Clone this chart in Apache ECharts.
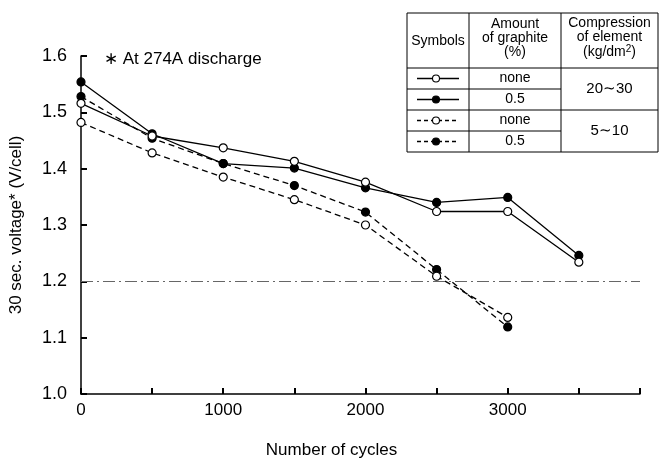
<!DOCTYPE html>
<html>
<head>
<meta charset="utf-8">
<script src="https://cdn.jsdelivr.net/npm/echarts@6/dist/echarts.min.js"></script>
<style>html,body{margin:0;padding:0;background:#fff}#c{width:662px;height:464px}</style>
</head>
<body>
<div id="c"></div>
<script>
var cycles = [0, 500, 1000, 1500, 2000, 2500, 3000, 3500];
var solidNone = [1.516, 1.458, 1.437, 1.413, 1.376, 1.324, 1.324, 1.234];
var solidGraphite = [1.554, 1.462, 1.409, 1.401, 1.366, 1.340, 1.349, 1.246];
var dashedNone = [1.482, 1.428, 1.385, 1.345, 1.300, 1.209, 1.136];
var dashedGraphite = [1.528, 1.454, 1.409, 1.370, 1.323, 1.221, 1.119];
var xLabels = [0, 1000, 2000, 3000];
var refLevel = 1.2;

var FONT = '"Liberation Sans Narrow", "Liberation Sans", Arial, sans-serif';
function pairs(vals) { return vals.map(function (v, i) { return [cycles[i], v]; }); }
function mk(name, vals, filled, dashed) {
  return {
    name: name, type: 'line', data: pairs(vals),
    symbol: 'circle', symbolSize: 8,
    itemStyle: { color: filled ? '#000' : '#fff', borderColor: '#000', borderWidth: 1.2 },
    lineStyle: { color: '#000', width: 1.3, type: dashed ? [6, 4] : 'solid' },
    emphasis: { disabled: true }, animation: false, z: filled ? 3 : 4
  };
}
var series = [
  mk('solid none', solidNone, false, false),
  mk('solid 0.5', solidGraphite, true, false),
  mk('dashed none', dashedNone, false, true),
  mk('dashed 0.5', dashedGraphite, true, true)
];
series[0].markLine = {
  silent: true, symbol: 'none', label: { show: false },
  lineStyle: { color: '#666', width: 1, type: [12, 4, 2, 4] },
  data: [{ yAxis: refLevel }]
};

// Legend table (decoration)
var tx = 407, c1 = 469, c2 = 561, tr = 658, ty = 13, hb = 68, rh = 21;
var g = [];
function line(x1, y1, x2, y2, w) { g.push({ type: 'line', shape: { x1: x1, y1: y1, x2: x2, y2: y2 }, style: { stroke: '#000', lineWidth: w || 1 } }); }
function txt(x, y, s, size, align) { g.push({ type: 'text', x: x, y: y, style: { text: s, font: (size || 13) + 'px ' + FONT, fill: '#000', align: align || 'center', verticalAlign: 'middle' } }); }
g.push({ type: 'rect', shape: { x: tx, y: ty, width: tr - tx, height: hb + 4 * rh - ty }, style: { fill: '#fff', stroke: '#000', lineWidth: 1 } });
line(c1, ty, c1, hb + 4 * rh);
line(c2, ty, c2, hb + 4 * rh);
line(tx, hb, tr, hb);
line(tx, hb + rh, c2, hb + rh);
line(tx, hb + 2 * rh, tr, hb + 2 * rh);
line(tx, hb + 3 * rh, c2, hb + 3 * rh);
txt((tx + c1) / 2, 41, 'Symbols', 14);
txt((c1 + c2) / 2, 24, 'Amount', 14);
txt((c1 + c2) / 2, 38, 'of graphite', 14);
txt((c1 + c2) / 2, 52, '(%)', 14);
txt((c2 + tr) / 2, 23, 'Compression', 14);
txt((c2 + tr) / 2, 37, 'of element', 14);
g.push({ type: 'text', x: (c2 + tr) / 2, y: 52, style: { text: '(kg/dm{s|2})', rich: { s: { fontSize: 10, verticalAlign: 'top', padding: [0, 0, 6, 0], fontFamily: FONT } }, font: '14px ' + FONT, fill: '#000', align: 'center', verticalAlign: 'middle' } });
var rowTexts = ['none', '0.5', 'none', '0.5'];
for (var i = 0; i < 4; i++) {
  var cy = hb + rh * i + rh / 2;
  txt((c1 + c2) / 2, cy, rowTexts[i], 14);
  var dashed = i >= 2, filled = i % 2 === 1;
  g.push({ type: 'line', shape: { x1: tx + 10, y1: cy, x2: c1 - 10, y2: cy }, style: { stroke: '#000', lineWidth: 1.3, lineDash: dashed ? [4, 3] : null } });
  g.push({ type: 'circle', shape: { cx: (tx + c1) / 2 - 2, cy: cy, r: 3.5 }, style: { fill: filled ? '#000' : '#fff', stroke: '#000', lineWidth: 1.1 } });
}
txt((c2 + tr) / 2, hb + rh, '20\u223C30', 15);
txt((c2 + tr) / 2, hb + 3 * rh, '5\u223C10', 15);
txt(104, 59, '\u2217 At 274A discharge', 17, 'left');

var chart = echarts.init(document.getElementById('c'));
chart.setOption({
  animation: false,
  backgroundColor: '#fff',
  grid: { left: 79, right: 22, top: 56, bottom: 69 },
  xAxis: {
    type: 'value', min: 0, max: 3930, interval: 500,
    name: 'Number of cycles', nameLocation: 'middle', nameGap: 48,
    nameTextStyle: { fontFamily: FONT, fontSize: 17, color: '#000', padding: [0, 58, 0, 0] },
    axisLine: { show: true, lineStyle: { color: '#000', width: 1.5 } },
    axisTick: { show: true, inside: true, length: 6, lineStyle: { color: '#000', width: 2 } },
    axisLabel: { customValues: xLabels, fontFamily: FONT, fontSize: 17, color: '#000', margin: 8, formatter: function (v) { return String(v); } },
    splitLine: { show: false }
  },
  yAxis: {
    type: 'value', min: 1.0, max: 1.6, interval: 0.1,
    name: '30 sec. voltage* (V/cell)', nameLocation: 'middle', nameGap: 56, nameRotate: 90,
    nameTextStyle: { fontFamily: FONT, fontSize: 17, color: '#000' },
    axisLine: { show: true, lineStyle: { color: '#000', width: 1.5 } },
    axisTick: { show: true, inside: true, length: 6, lineStyle: { color: '#000', width: 2 } },
    axisLabel: { fontFamily: FONT, fontSize: 18, color: '#000', margin: 14, formatter: function (v) { return v.toFixed(1); } },
    splitLine: { show: false }
  },
  series: series,
  graphic: g
});
</script>
</body>
</html>
